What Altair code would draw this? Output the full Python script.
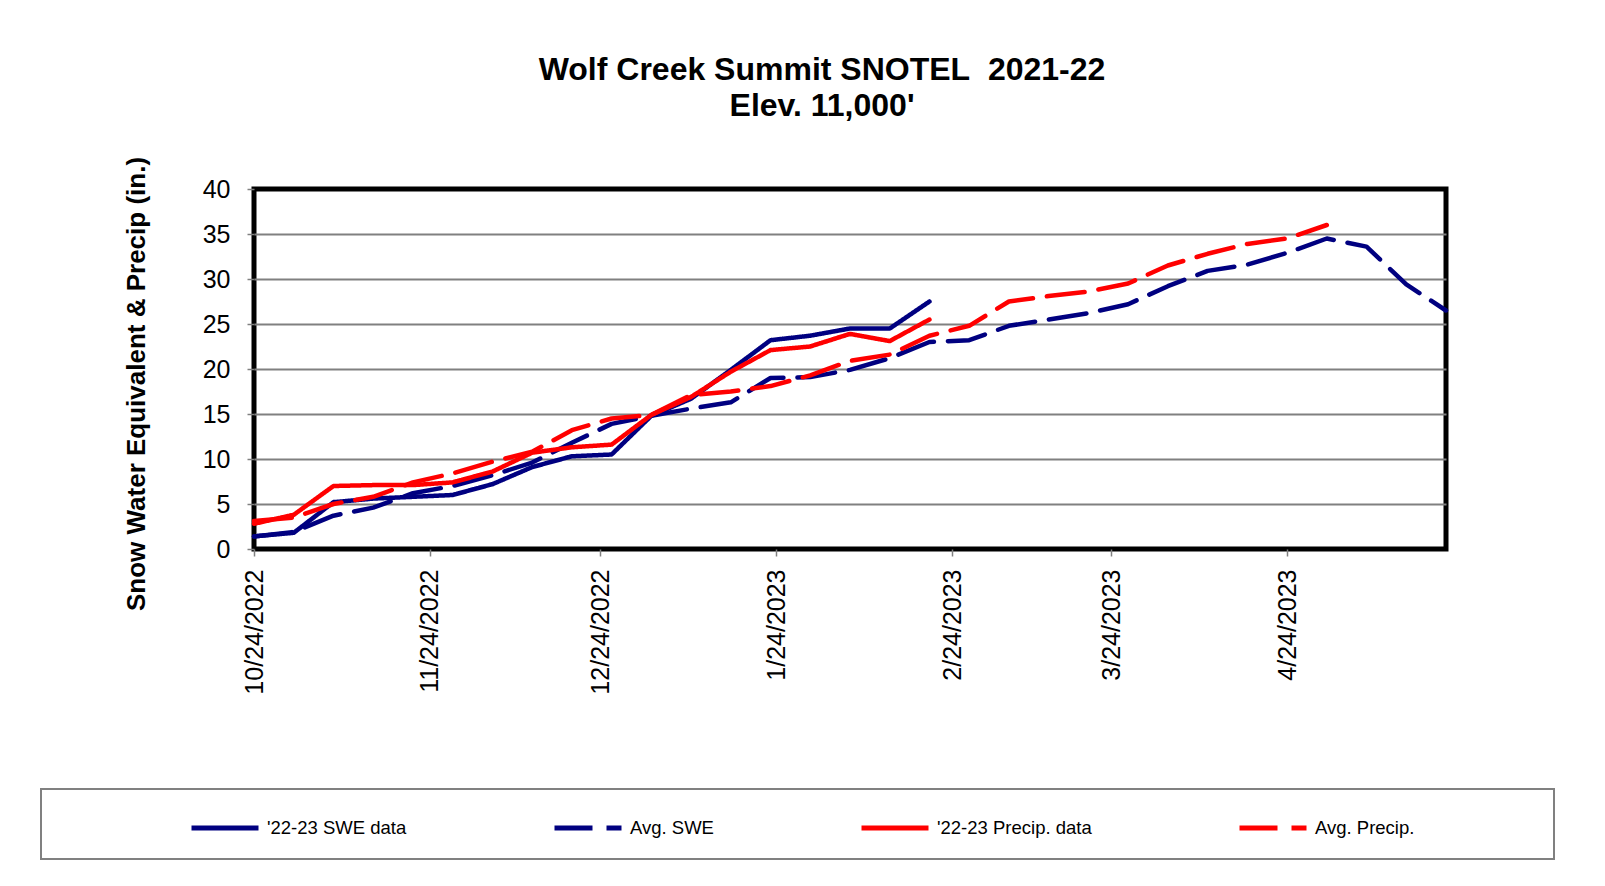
import altair as alt
import pandas as pd

# weekly observation dates
dates = [
    "2022-10-24", "2022-10-31", "2022-11-07", "2022-11-14", "2022-11-21", "2022-11-28",
    "2022-12-05", "2022-12-12", "2022-12-19", "2022-12-26", "2023-01-02", "2023-01-09",
    "2023-01-16", "2023-01-23", "2023-01-30", "2023-02-06", "2023-02-13", "2023-02-20",
    "2023-02-27", "2023-03-06", "2023-03-13", "2023-03-20", "2023-03-27", "2023-04-03",
    "2023-04-10", "2023-04-17", "2023-04-24", "2023-05-01", "2023-05-08", "2023-05-15",
    "2023-05-22",
]

swe_data = [1.4, 1.8, 5.2, 5.6, 5.8, 6.0, 7.2, 9.1, 10.3, 10.5, 14.8, 16.7, 19.9, 23.2,
            23.7, 24.5, 24.5, 27.5]
precip_data = [2.8, 3.8, 7.0, 7.1, 7.1, 7.4, 8.6, 10.7, 11.3, 11.6, 14.9, 16.9, 19.7, 22.1,
               22.5, 23.9, 23.1, 25.5]
avg_swe = [1.4, 1.9, 3.7, 4.6, 6.2, 7.0, 8.2, 9.6, 11.8, 13.9, 14.8, 15.6, 16.3, 19.0,
           19.1, 19.9, 21.2, 23.0, 23.2, 24.8, 25.5, 26.2, 27.2, 29.2, 30.9, 31.6, 32.9,
           34.5, 33.6, 29.4, 26.5]
avg_precip = [3.1, 3.5, 5.0, 5.8, 7.4, 8.4, 9.7, 10.8, 13.2, 14.5, 14.9, 17.1, 17.5, 18.1,
              19.3, 20.9, 21.6, 23.7, 24.8, 27.5, 28.1, 28.6, 29.5, 31.5, 32.8, 33.9, 34.5,
              36.0]

series_names = ["'22-23 SWE data", "Avg. SWE", "'22-23 Precip. data", "Avg. Precip."]
series_values = [swe_data, avg_swe, precip_data, avg_precip]
series_colors = ["#000080", "#000080", "#FF0000", "#FF0000"]
series_dash = [[1, 0], [38, 14], [1, 0], [38, 14]]

y_ticks = [0, 5, 10, 15, 20, 25, 30, 35, 40]
x_tick_dates = [(2022, 10, 24), (2022, 11, 24), (2022, 12, 24), (2023, 1, 24),
                (2023, 2, 24), (2023, 3, 24), (2023, 4, 24)]

rows = []
for name, vals in zip(series_names, series_values):
    for d, v in zip(dates, vals):
        rows.append({"series": name, "date": d + "T00:00:00", "value": v})
df = pd.DataFrame(rows)

FONT = "Liberation Sans"

legend = alt.Legend(
    title=None, orient="none", legendX=-65, legendY=603, direction="horizontal",
    columns=4, columnPadding=137, symbolType="stroke", symbolSize=4489,
    symbolStrokeWidth=5, labelFont=FONT, labelFontSize=18.5, labelColor="black",
    labelOffset=6, padding=0, labelLimit=400,
)

x_enc = alt.X(
    "date:T", title=None,
    scale=alt.Scale(domain=[alt.DateTime(year=2022, month=10, date=24),
                            alt.DateTime(year=2023, month=5, date=22)]),
    axis=alt.Axis(
        values=[alt.DateTime(year=y, month=m, date=d) for (y, m, d) in x_tick_dates],
        format="%-m/%-d/%Y", formatType="time", labelAngle=270, labelFont=FONT,
        labelFontSize=25, labelColor="black", labelPadding=13, labelFlush=False,
        labelOverlap=False, tickSize=7, tickColor="#808080", tickWidth=1.5,
        domain=False, grid=False,
    ),
)
y_enc = alt.Y(
    "value:Q", scale=alt.Scale(domain=[0, 40], nice=False),
    axis=alt.Axis(
        values=y_ticks, title="Snow Water Equivalent & Precip (in.)",
        titleFont=FONT, titleFontSize=26, titleFontWeight="bold", titleColor="black",
        titleAngle=270, titleAlign="center", titleBaseline="middle",
        titleX=-118, titleY=194.5,
        labelFont=FONT, labelFontSize=25, labelColor="black", labelPadding=17,
        labelFlush=False, tickSize=7, tickColor="#808080", tickWidth=1.5,
        domain=False, grid=True, gridWidth=2,
        gridColor={"condition": {"test": "datum.value === 0 || datum.value === 40",
                                 "value": "black"},
                   "value": "#808080"},
    ),
)
color_enc = alt.Color("series:N",
                      scale=alt.Scale(domain=series_names, range=series_colors),
                      legend=legend)
dash_enc = alt.StrokeDash("series:N",
                          scale=alt.Scale(domain=series_names, range=series_dash),
                          legend=legend)

lines = []
for name in series_names:
    lines.append(
        alt.Chart(df).transform_filter(alt.datum.series == name)
        .mark_line(strokeWidth=4.5, strokeCap="round", strokeJoin="round")
        .encode(x=x_enc, y=y_enc, color=color_enc, strokeDash=dash_enc)
    )

frame = alt.Chart(pd.DataFrame({"k": [0]})).mark_rect(
    filled=False, stroke="#808080", strokeWidth=2
).encode(x=alt.value(-213), x2=alt.value(1300), y=alt.value(600), y2=alt.value(670))

chart = alt.layer(frame, *lines).properties(
    width=1192, height=360,
    padding={"left": 246, "top": 181, "right": 140, "bottom": 321},
    autosize=alt.AutoSizeParams(type="none"),
    title=alt.Title(
        text=["Wolf Creek Summit SNOTEL\u00a0 2021-22", "Elev. 11,000'"],
        font=FONT, fontSize=32, fontWeight="bold", color="black",
        anchor="middle", frame="group", dx=-28, offset=33, lineHeight=36,
    ),
).configure(font=FONT, background="white").configure_view(stroke="black", strokeWidth=5)

chart.save("out.html", embed_options={"renderer": "svg", "actions": False})
